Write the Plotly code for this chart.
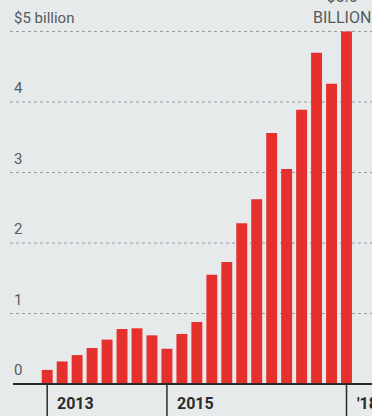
import plotly.graph_objects as go

quarters = list(range(21))  # 2013 Q1 ... 2018 Q1
values = [0.20, 0.32, 0.41, 0.51, 0.63, 0.78, 0.79, 0.69, 0.50, 0.71, 0.88,
          1.55, 1.73, 2.28, 2.62, 3.56, 3.05, 3.89, 4.70, 4.26, 5.0]
y_ticks = [1, 2, 3, 4, 5]
y_tick_labels = ["1", "2", "3", "4", "$5 billion"]
x_ticks = [0, 8, 20]
x_tick_labels = ["2013", "2015", "'18"]

BG = "#e6eaeb"
RED = "#e5302e"
GRID = "#979c9f"
TXT = "#555a5c"
DARK = "#2b2b2b"
FONT = "Roboto, Arial, sans-serif"

fig = go.Figure()
fig.add_trace(go.Bar(x=quarters, y=values, marker=dict(color=RED, line=dict(width=0)),
                     hoverinfo="skip"))

shapes = []
annotations = []
for v, lab in zip(y_ticks, y_tick_labels):
    shapes.append(dict(type="line", xref="paper", yref="y", x0=10/372, x1=1, y0=v, y1=v,
                       line=dict(color=GRID, width=1, dash="dot"), layer="below"))
    annotations.append(dict(x=12/372, xref="paper", y=v, yref="y", text=lab, showarrow=False,
                            xanchor="left", yanchor="bottom", yshift=3,
                            font=dict(family=FONT, size=15, color=TXT)))
annotations.append(dict(x=12/372, xref="paper", y=0, yref="y", text="0", showarrow=False,
                        xanchor="left", yanchor="bottom", yshift=3,
                        font=dict(family=FONT, size=15, color=TXT)))
# baseline
shapes.append(dict(type="line", xref="paper", yref="y", x0=13/372, x1=1, y0=0, y1=0,
                   line=dict(color=DARK, width=2), layer="above"))
# x ticks
for xt, lab in zip(x_ticks, x_tick_labels):
    shapes.append(dict(type="line", xref="x", yref="paper", x0=xt, x1=xt, y0=0, y1=32/416,
                       line=dict(color=DARK, width=1.5)))
    annotations.append(dict(x=xt, xref="x", y=0, yref="paper", text="<b>" + lab + "</b>",
                            showarrow=False, xanchor="left", yanchor="bottom",
                            xshift=8, yshift=1,
                            font=dict(family=FONT, size=16, color=DARK)))
# top label (cut off by the top edge, as in the original)
annotations.append(dict(x=20, xref="x", y=5.0, yref="y", text="$5.0<br>BILLION",
                        showarrow=False, xanchor="center", yanchor="bottom", xshift=-5, yshift=3,
                        font=dict(family=FONT, size=16, color=TXT)))

fig.update_layout(
    width=372, height=416,
    margin=dict(l=0, r=0, t=0, b=0),
    paper_bgcolor=BG, plot_bgcolor=BG,
    bargap=0.27,
    showlegend=False,
    xaxis=dict(range=[-3.154, 21.704], showgrid=False, zeroline=False, showticklabels=False,
               ticks="", fixedrange=True),
    yaxis=dict(range=[-0.454, 5.447], showgrid=False, zeroline=False, showticklabels=False,
               ticks="", fixedrange=True),
    shapes=shapes,
    annotations=annotations,
)

fig.write_html("out.html")
